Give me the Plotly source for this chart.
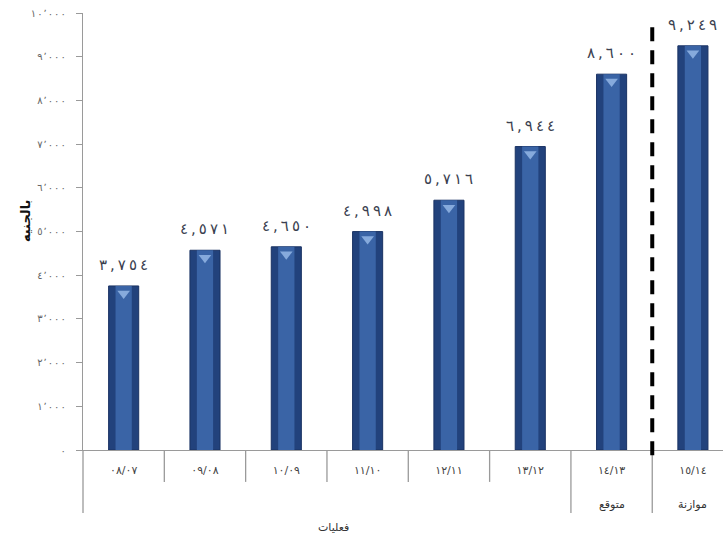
import plotly.graph_objects as go

# ---- data ----
categories = ["٠٨/٠٧", "٠٩/٠٨", "١٠/٠٩", "١١/١٠", "١٢/١١", "١٣/١٢", "١٤/١٣", "١٥/١٤"]
values = [3754, 4571, 4650, 4998, 5716, 6944, 8600, 9249]
value_labels = ["٣,٧٥٤", "٤,٥٧١", "٤,٦٥٠", "٤,٩٩٨", "٥,٧١٦", "٦,٩٤٤", "٨,٦٠٠", "٩,٢٤٩"]
second_row = ["", "", "", "", "", "", "متوقع", "موازنة"]
y_tickvals = [0, 1000, 2000, 3000, 4000, 5000, 6000, 7000, 8000, 9000, 10000]
y_ticktext = ["٠", "١٬٠٠٠", "٢٬٠٠٠", "٣٬٠٠٠", "٤٬٠٠٠", "٥٬٠٠٠", "٦٬٠٠٠",
              "٧٬٠٠٠", "٨٬٠٠٠", "٩٬٠٠٠", "١٠٬٠٠٠"]
y_title = "بالجنيه"
x_title = "فعليات"

FONT = "DejaVu Sans"
idx = list(range(len(categories)))


def spaced(t, sp):
    # keep left-to-right digit order while adding visual letter spacing
    return ("\u200e" + sp).join(t)


fig = go.Figure()
# outer (dark) bar
fig.add_trace(go.Bar(x=idx, y=values, width=0.37,
                     marker=dict(color="#22427C", line=dict(color="#1A3263", width=1)),
                     hoverinfo="skip", showlegend=False))
# inner lighter stripe
fig.add_trace(go.Bar(x=idx, y=values, width=0.2,
                     marker=dict(color="#3A64A6", line=dict(width=0)),
                     hoverinfo="skip", showlegend=False))
# small bevel triangles at bar tops
fig.add_trace(go.Scatter(x=idx, y=[v - 170 for v in values], mode="markers",
                         marker=dict(symbol="triangle-down", size=11, color="#86AADC",
                                     line=dict(width=0)),
                         hoverinfo="skip", showlegend=False))

# value labels above bars
for i, (v, t) in enumerate(zip(values, value_labels)):
    fig.add_annotation(x=i, y=v, text=spaced(t, "\u2009"), showarrow=False, yshift=21,
                       yanchor="middle", font=dict(family=FONT, size=15, color="#3B3F50"))

# second-row category labels
for i, t in enumerate(second_row):
    if t:
        fig.add_annotation(x=i, y=-0.125, yref="paper", text=t, showarrow=False,
                           yanchor="middle", font=dict(family=FONT, size=11, color="#333333"))

# category separators (axis decoration)
for i in range(len(categories)):
    xs = i - 0.5
    if xs < 0:
        continue
    long_line = i >= 6
    fig.add_shape(type="line", xref="x", yref="paper", x0=xs, x1=xs, y0=0,
                  y1=-0.144 if long_line else -0.073,
                  line=dict(color="#9A9A9A", width=1.3))
# y axis extension below zero
fig.add_shape(type="line", xref="paper", yref="paper", x0=0, x1=0, y0=0, y1=-0.144,
              line=dict(color="#9A9A9A", width=1.3))
# dashed separator between forecast and budget
fig.add_shape(type="line", xref="x", yref="paper", x0=6.5, x1=6.5, y0=-0.012, y1=0.975,
              line=dict(color="#000000", width=4, dash="14px,9px"))

# axis titles
fig.add_annotation(x=(16 - 83) / 640, y=0.525, xref="paper", yref="paper", text="<b>" + y_title + "</b>",
                   textangle=-90, showarrow=False, font=dict(family=FONT, size=13, color="#111111"))
fig.add_annotation(x=(333 - 83) / 640, y=-0.178, xref="paper", yref="paper", text=x_title,
                   showarrow=False, yanchor="middle", font=dict(family=FONT, size=11, color="#333333"))

fig.update_layout(
    width=723, height=541,
    margin=dict(l=83, r=0, t=13, b=91),
    paper_bgcolor="white", plot_bgcolor="white",
    barmode="overlay",
    xaxis=dict(range=[-0.5, 7.37], tickvals=idx, ticktext=categories,
               showgrid=False, zeroline=False, showline=True, linecolor="#9A9A9A", linewidth=1.3,
               ticks="", ticklabelstandoff=10,
               tickfont=dict(family=FONT, size=11, color="#444444")),
    yaxis=dict(range=[0, 10000], tickvals=y_tickvals, ticktext=[spaced(t, "\u200a") for t in y_ticktext],
               showgrid=False, zeroline=False, showline=True, linecolor="#9A9A9A", linewidth=1.3,
               ticks="outside", ticklen=6, tickcolor="#9A9A9A", ticklabelstandoff=8,
               tickfont=dict(family=FONT, size=10, color="#666666")),
)

fig.write_html("out.html")
